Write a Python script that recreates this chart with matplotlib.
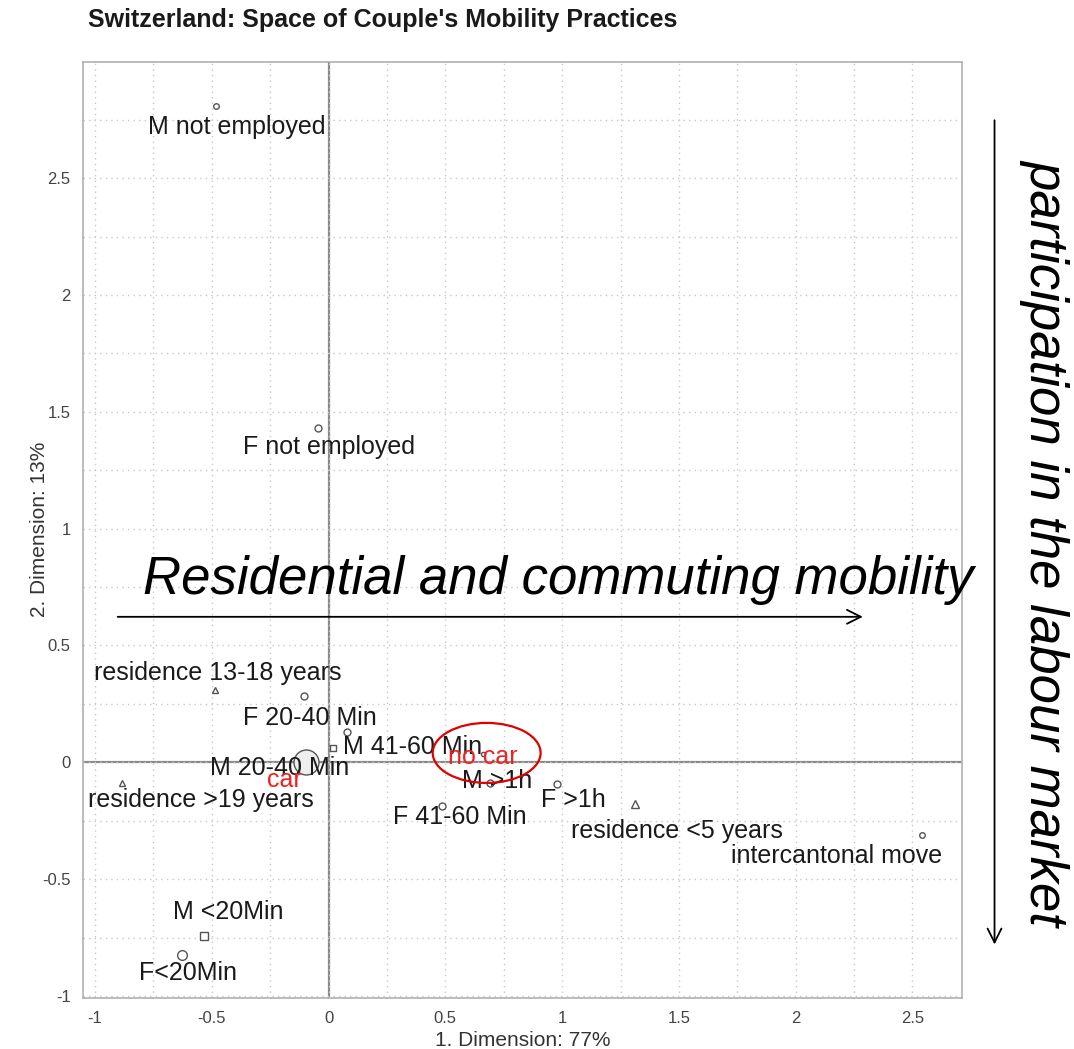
import numpy as np
import matplotlib.pyplot as plt
from matplotlib.patches import Ellipse

plt.rcParams['font.family'] = ['Liberation Sans', 'DejaVu Sans']

# category coordinates on the first two dimensions
labels = ["M not employed", "F not employed", "residence 13-18 years", "F 20-40 Min",
          "M 41-60 Min", "M 20-40 Min", "car", "no car", "residence >19 years",
          "M >1h", "F 41-60 Min", "F >1h", "residence <5 years", "intercantonal move",
          "M <20Min", "F<20Min"]
dim1 = [-0.483, -0.046, -0.486, -0.105, 0.078, 0.018, -0.097, 0.66, -0.884,
        0.69, 0.485, 0.977, 1.311, 2.539, -0.533, -0.627]
dim2 = [2.81, 1.43, 0.31, 0.284, 0.13, 0.061, 0.0, 0.035, -0.088,
        -0.088, -0.186, -0.092, -0.178, -0.31, -0.743, -0.824]

# marker style and size per category
shapes = ['o', 'o', '^', 'o', 'o', 's', 'o', 'o', '^', 'o', 'o', 'o', '^', 'o', 's', 'o']
sizes = [4, 5, 4, 5, 5, 5, 18, 3, 5, 5, 5, 5, 6, 4, 6, 7]

# label offsets from each point (data units)
dx = [0.09, 0.05, 0.013, 0.025, 0.283, -0.226, -0.094, 0.0, 0.338,
      0.03, 0.077, 0.073, 0.179, -0.364, 0.103, 0.027]
dy = [-0.09, -0.08, 0.073, -0.094, -0.064, -0.085, -0.075, -0.012, -0.072,
      0.008, -0.047, -0.068, -0.115, -0.09, 0.103, -0.076]
red_labels = {"car", "no car"}

fig = plt.figure(figsize=(10.74, 10.49), dpi=100)
ax = fig.add_axes([0.0773, 0.0486, 0.818, 0.8923])
ax.set_xlim(-1.051, 2.71)
ax.set_ylim(-1.009, 2.997)

ticks = [-1, -0.5, 0, 0.5, 1, 1.5, 2, 2.5]
ticklabels = ["-1", "-0.5", "0", "0.5", "1", "1.5", "2", "2.5"]
ax.set_xticks(ticks)
ax.set_xticklabels(ticklabels)
ax.set_yticks(ticks)
ax.set_yticklabels(ticklabels)
ax.set_xticks(np.arange(-1, 2.75, 0.25), minor=True)
ax.set_yticks(np.arange(-1, 3.0, 0.25), minor=True)
ax.tick_params(which='both', length=0, labelsize=12, labelcolor='#444444', pad=9)
ax.grid(which='both', linestyle=(0, (1, 3)), color='#c8c8c8', linewidth=1)
for s in ax.spines.values():
    s.set_color('#b0b0b0')
    s.set_linewidth(1.2)

ax.axhline(0, color='#8a8a8a', linewidth=1.6, zorder=1)
ax.axvline(0, color='#8a8a8a', linewidth=1.6, zorder=1)

for i, name in enumerate(labels):
    face = '#eeeeee' if name == "car" else 'white'
    ax.plot(dim1[i], dim2[i], marker=shapes[i], markersize=sizes[i],
            markerfacecolor=face, markeredgecolor='#555555', markeredgewidth=1.0,
            linestyle='none', zorder=3)
    red = name in red_labels
    ax.text(dim1[i] + dx[i], dim2[i] + dy[i], name, ha='center', va='center',
            fontsize=18, color='#ee2222' if red else '#1a1a1a', zorder=4)

# highlight around the "no car" category
k = labels.index("no car")
ax.add_patch(Ellipse((dim1[k] + dx[k] + 0.017, dim2[k] + dy[k] + 0.017), 0.462, 0.257,
                     fill=False, edgecolor='#e00000', linewidth=1.6, zorder=5))

ax.set_xlabel("1. Dimension: 77%", fontsize=15, color='#333333', labelpad=4)
fig.text(0.037, 0.495, "2. Dimension: 13%", fontsize=15, color='#333333',
         rotation=90, ha='center', va='center')
fig.text(0.082, 0.981, "Switzerland: Space of Couple's Mobility Practices",
         fontsize=18, fontweight='bold', color='#1a1a1a', va='center')

# interpretation arrows
fig.text(0.133, 0.447, "Residential and commuting mobility", fontsize=38,
         style='italic', color='black', va='center')
fig.add_artist(plt.Annotation('', xy=(0.806, 0.412), xytext=(0.107, 0.412),
                              xycoords='figure fraction',
                              arrowprops=dict(arrowstyle='->', color='black', lw=1.3,
                                              mutation_scale=25)))
fig.text(0.973, 0.483, "participation in the labour market", fontsize=38,
         style='italic', rotation=-90, ha='center', va='center', color='black')
fig.add_artist(plt.Annotation('', xy=(0.926, 0.097), xytext=(0.926, 0.888),
                              xycoords='figure fraction',
                              arrowprops=dict(arrowstyle='->', color='black', lw=1.3,
                                              mutation_scale=25)))

fig.savefig("out.png", dpi=100, facecolor='white')
